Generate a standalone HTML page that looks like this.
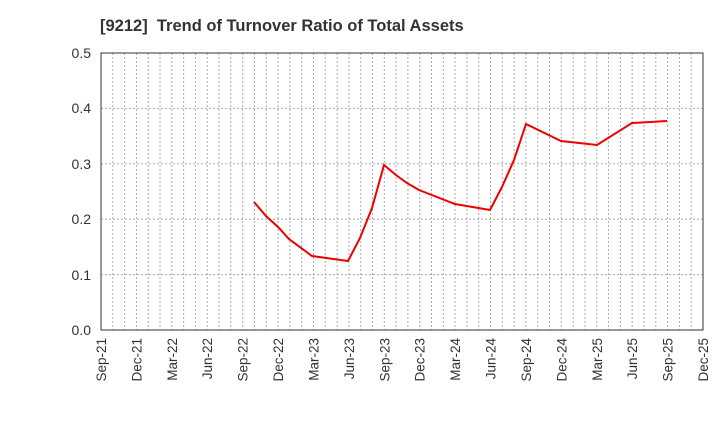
<!DOCTYPE html>
<html><head><style>body{margin:0;background:#fff;font-family:"Liberation Sans",sans-serif}</style></head><body>
<svg width="720" height="440" xmlns="http://www.w3.org/2000/svg" font-family="Liberation Sans, sans-serif">
<rect width="720" height="440" fill="#fff"/>
<text x="100" y="31" font-size="16.5" font-weight="bold" fill="#333" style="white-space:pre">[9212]  Trend of Turnover Ratio of Total Assets</text>
<g stroke="#aaa" stroke-dasharray="2,2" stroke-width="1">
<line x1="101" y1="108.4" x2="703" y2="108.4"/>
<line x1="101" y1="163.8" x2="703" y2="163.8"/>
<line x1="101" y1="219.2" x2="703" y2="219.2"/>
<line x1="101" y1="274.6" x2="703" y2="274.6"/>
</g>
<g stroke="#aaa" stroke-dasharray="2,2" stroke-width="1" id="v"></g>
<rect x="101" y="53" width="602" height="277" fill="none" stroke="#333" stroke-width="1"/>
<g font-size="14" fill="#333" text-anchor="end">
<text x="91" y="58">0.5</text><text x="91" y="113">0.4</text><text x="91" y="169">0.3</text><text x="91" y="224">0.2</text><text x="91" y="280">0.1</text><text x="91" y="335">0.0</text>
</g>
<g id="xl" font-size="13.5" fill="#333" text-anchor="end"></g>
<polyline fill="none" stroke="#e00" stroke-width="2" points="254,202 266,216 278,227 289,239 312,256 348,261 360,238 372,208 384,165 396,175 407,183 419,190 455,204 490,210 502,187 514,160 526,124 561,141 597,145 632,123 667,121"/>
</svg>
<script>
var ns="http://www.w3.org/2000/svg",v=document.getElementById("v"),xl=document.getElementById("xl");
var labs=["Sep-21","Dec-21","Mar-22","Jun-22","Sep-22","Dec-22","Mar-23","Jun-23","Sep-23","Dec-23","Mar-24","Jun-24","Sep-24","Dec-24","Mar-25","Jun-25","Sep-25","Dec-25"];
for(var i=1;i<51;i++){var x=101+i*602/51;var l=document.createElementNS(ns,"line");l.setAttribute("x1",x);l.setAttribute("x2",x);l.setAttribute("y1",53);l.setAttribute("y2",330);v.appendChild(l);}
for(var j=0;j<18;j++){var x=101+j*3*602/51;var t=document.createElementNS(ns,"text");t.setAttribute("transform","translate("+(x+5)+",338) rotate(-90)");t.textContent=labs[j];xl.appendChild(t);}
</script>
</body></html>
